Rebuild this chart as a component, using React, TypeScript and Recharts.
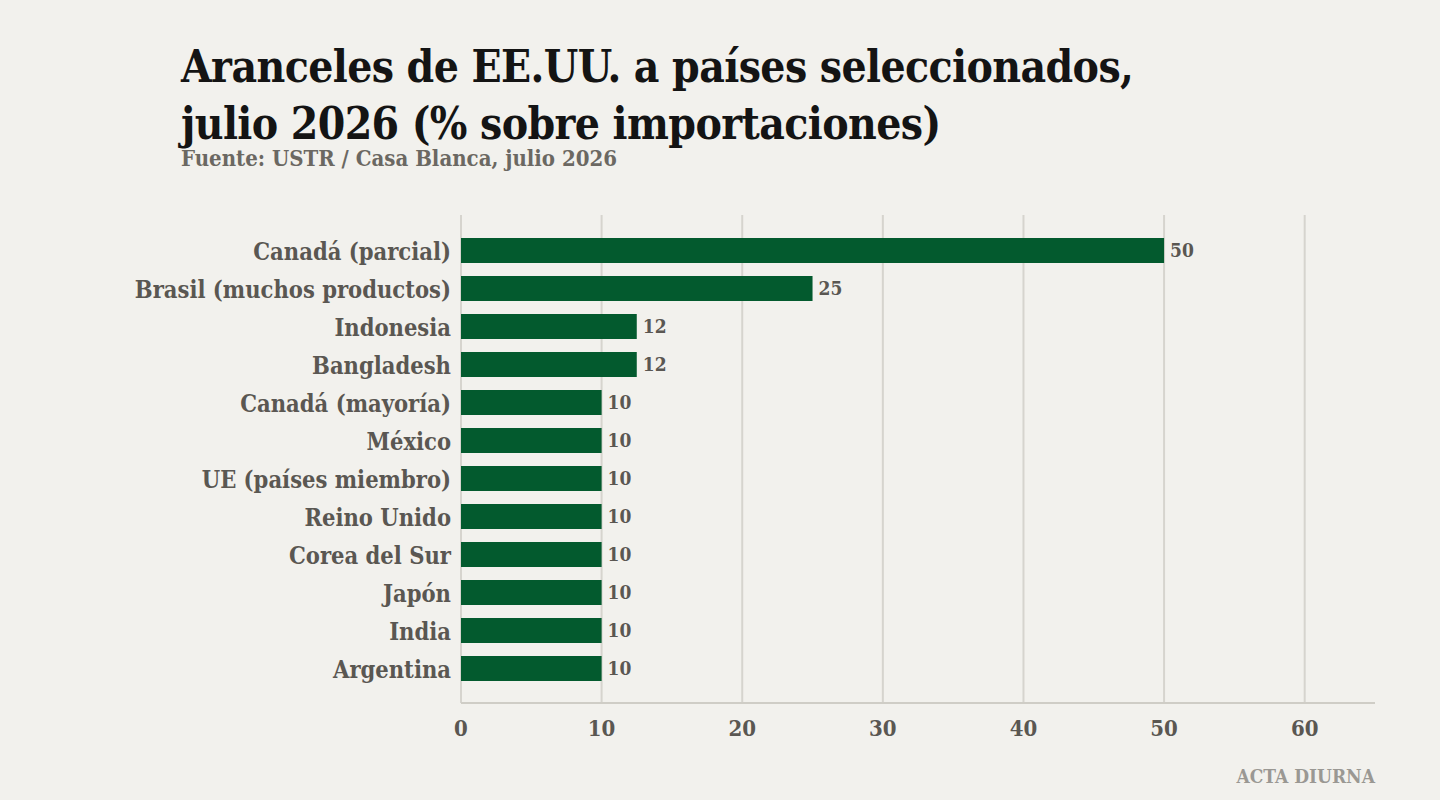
import React from 'react';
import { BarChart, Bar, XAxis, YAxis, CartesianGrid, LabelList } from 'recharts';

const countries = [
  'Canadá (parcial)',
  'Brasil (muchos productos)',
  'Indonesia',
  'Bangladesh',
  'Canadá (mayoría)',
  'México',
  'UE (países miembro)',
  'Reino Unido',
  'Corea del Sur',
  'Japón',
  'India',
  'Argentina',
];
const tariffs = [50, 25, 12.5, 12.5, 10, 10, 10, 10, 10, 10, 10, 10];
const tariffLabels = ['50', '25', '12', '12', '10', '10', '10', '10', '10', '10', '10', '10'];
const xTicks = [0, 10, 20, 30, 40, 50, 60];

const FONT = '"DejaVu Serif Condensed", "DejaVu Serif", serif';
const BG = '#f2f1ed';
const BAR = '#035a2e';
const GRID = '#d6d4ce';
const LABEL = '#5a5752';

const data = countries.map((name, i) => ({ name, value: tariffs[i], label: tariffLabels[i] }));

const App: React.FC = () => {
  return (
    <div style={{ position: 'absolute', left: 0, top: 0, width: 1440, height: 800, background: BG, fontFamily: FONT }}>
      <div style={{ position: 'absolute', left: 181, top: 38, fontSize: 44, fontWeight: 700, lineHeight: '57px', color: '#141414', letterSpacing: -0.6, whiteSpace: 'nowrap' }}>
        Aranceles de EE.UU. a países seleccionados,<br />julio 2026 (% sobre importaciones)
      </div>
      <div style={{ position: 'absolute', left: 181, top: 145, fontSize: 22, fontWeight: 700, color: '#6b6862', whiteSpace: 'nowrap' }}>
        Fuente: USTR / Casa Blanca, julio 2026
      </div>
      <BarChart
        width={1440}
        height={800}
        data={data}
        layout="vertical"
        margin={{ top: 215, right: 65, left: 121, bottom: 57 }}
        barCategoryGap={13}
      >
        <CartesianGrid horizontal={false} stroke={GRID} strokeWidth={2} syncWithTicks />
        <XAxis
          type="number"
          domain={[0, 65]}
          ticks={xTicks}
          axisLine={{ stroke: '#cfcdc6', strokeWidth: 2 }}
          tickLine={false}
          tick={{ fill: LABEL, fontSize: 22, fontWeight: 700, fontFamily: FONT }}
          tickMargin={11}
          height={40}
        />
        <YAxis
          type="category"
          dataKey="name"
          width={340}
          axisLine={false}
          tickLine={false}
          tick={{ fill: LABEL, fontSize: 23.5, fontWeight: 700, fontFamily: FONT, dy: 2 }}
          tickMargin={4}
          padding={{ top: 16, bottom: 16 }}
        />
        <Bar dataKey="value" fill={BAR} barSize={25} isAnimationActive={false}>
          <LabelList
            dataKey="label"
            position="right"
            offset={6}
            fill={LABEL}
            fontSize={19}
            fontWeight={700}
            fontFamily={FONT}
          />
        </Bar>
      </BarChart>
      <div style={{ position: 'absolute', right: 65, top: 765, fontSize: 19, fontWeight: 700, color: '#9a9893', whiteSpace: 'nowrap' }}>
        ACTA DIURNA
      </div>
    </div>
  );
};

export default App;
